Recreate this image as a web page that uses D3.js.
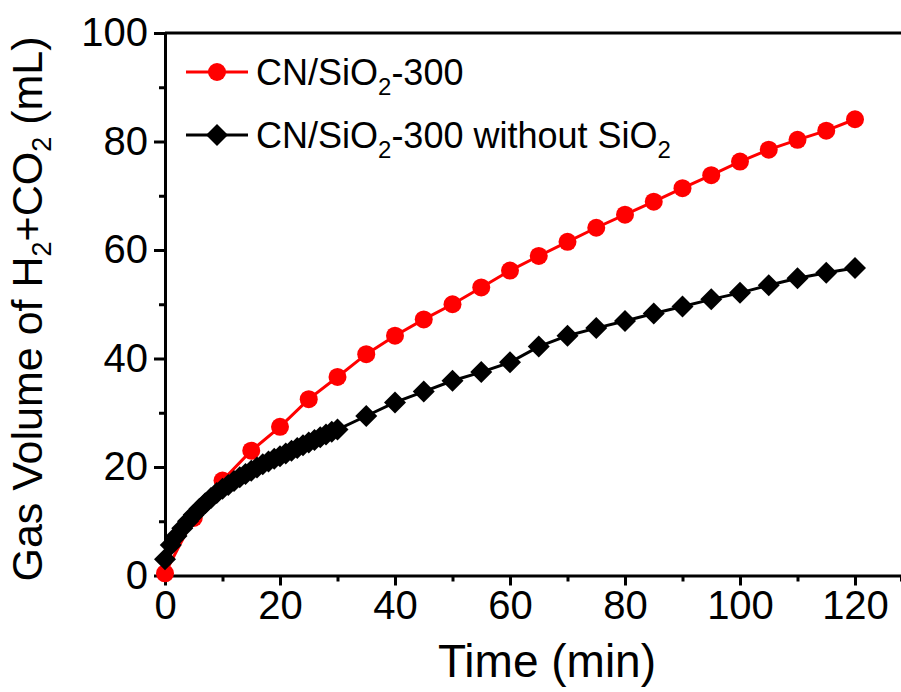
<!DOCTYPE html>
<html>
<head>
<script src="https://cdnjs.cloudflare.com/ajax/libs/d3/7.8.5/d3.min.js"></script>
  <meta charset="utf-8">
  <title>Gas volume</title>
  <style>
    body { margin: 0; background: #fff; }
    svg { display: block; font-family: Arial, "Liberation Sans", sans-serif; }
  </style>
</head>
<body>
  <div id="chartArea"></div>
  <script>
  // red series, sampled every 5 min
  var redTime = [0, 5, 10, 15, 20, 25, 30, 35, 40, 45, 50, 55, 60, 65, 70, 75, 80, 85, 90, 95, 100, 105, 110, 115, 120];
  var redVolume = [0.4, 10.6, 17.5, 23.0, 27.4, 32.5, 36.6, 40.8, 44.2, 47.2, 50.0, 53.1, 56.2, 58.9, 61.5, 64.1, 66.5, 68.9, 71.4, 73.8, 76.3, 78.5, 80.3, 82.0, 84.1];

  // black series, dense at the start
  var blackTime = [0, 1, 2, 3, 4, 5, 6, 7, 8, 9, 10, 11, 12, 13, 14, 15, 16, 17, 18, 19, 20, 21, 22, 23, 24, 25, 26, 27, 28, 29, 30,
    35, 40, 45, 50, 55, 60, 65, 70, 75, 80, 85, 90, 95, 100, 105, 110, 115, 120];
  var blackVolume = [3.0, 5.6, 7.3, 8.7, 10.0, 11.2, 12.3, 13.3, 14.3, 15.2, 16.0, 16.7, 17.4, 18.1, 18.7, 19.3, 19.9, 20.5, 21.0, 21.5, 22.0, 22.5, 23.0, 23.5, 24.0, 24.5, 25.0, 25.5, 26.0, 26.5, 26.9,
    29.4, 31.9, 33.9, 35.9, 37.5, 39.3, 42.2, 44.2, 45.6, 46.9, 48.3, 49.6, 50.9, 52.1, 53.5, 54.8, 55.8, 56.7];

  var xMajor = [0, 20, 40, 60, 80, 100, 120];
  var xMinor = [10, 30, 50, 70, 90, 110];
  var yMajor = [0, 20, 40, 60, 80, 100];
  var yMinor = [10, 30, 50, 70, 90];

  var W = 901, H = 692;
  var svg = d3.select('#chartArea').append('svg')
    .attr('width', W).attr('height', H);

  var x = d3.scaleLinear().domain([0, 128]).range([165, 901]);
  var y = d3.scaleLinear().domain([0, 100]).range([575.5, 33]);

  // axes
  function styleAxis(g) {
    g.select('.domain').attr('stroke', '#000').attr('stroke-width', 3);
    g.selectAll('.tick line').attr('stroke', '#000').attr('stroke-width', 3);
    g.selectAll('.tick text').attr('fill', '#000').attr('font-size', 40);
  }

  var gx = svg.append('g').attr('transform', 'translate(0,' + y(0) + ')');
  gx.call(d3.axisBottom(x).tickValues(xMinor).tickSize(6).tickFormat(''))
    .call(styleAxis);
  var gx2 = svg.append('g').attr('transform', 'translate(0,' + y(0) + ')');
  gx2.call(d3.axisBottom(x).tickValues(xMajor).tickSize(10).tickPadding(5).tickSizeOuter(0))
    .call(styleAxis);
  gx2.select('.domain').remove();

  var gy = svg.append('g').attr('transform', 'translate(' + x(0) + ',0)');
  gy.call(d3.axisLeft(y).tickValues(yMinor).tickSize(6).tickFormat('').tickSizeOuter(0))
    .call(styleAxis);
  var gy2 = svg.append('g').attr('transform', 'translate(' + x(0) + ',0)');
  gy2.call(d3.axisLeft(y).tickValues(yMajor).tickSize(11).tickPadding(6).tickSizeOuter(0))
    .call(styleAxis);
  gy2.select('.domain').remove();

  // top frame line
  svg.append('line')
    .attr('x1', x(0)).attr('x2', W)
    .attr('y1', y(100)).attr('y2', y(100))
    .attr('stroke', '#000').attr('stroke-width', 3);

  // axis titles
  svg.append('text')
    .attr('x', 547).attr('y', 677)
    .attr('text-anchor', 'middle')
    .attr('font-size', 46)
    .text('Time (min)');

  var yt = svg.append('text')
    .attr('transform', 'translate(42,' + 309 + ') rotate(-90)')
    .attr('text-anchor', 'middle')
    .attr('font-size', 43);
  yt.append('tspan').text('Gas Volume of H');
  yt.append('tspan').attr('font-size', 27).attr('dy', 9).text('2');
  yt.append('tspan').attr('dy', -9).text('+CO');
  yt.append('tspan').attr('font-size', 27).attr('dy', 9).text('2');
  yt.append('tspan').attr('dy', -9).text(' (mL)');

  // series
  var redData = redTime.map(function(t, i) { return [t, redVolume[i]]; });
  var blackData = blackTime.map(function(t, i) { return [t, blackVolume[i]]; });
  var line = d3.line()
    .x(function(d) { return x(d[0]); })
    .y(function(d) { return y(d[1]); });

  var diamond = 'M0,-11L11,0L0,11L-11,0Z';

  svg.append('path').datum(redData)
    .attr('d', line).attr('fill', 'none')
    .attr('stroke', '#f00').attr('stroke-width', 3);
  svg.selectAll('circle.red').data(redData).enter()
    .append('circle').attr('class', 'red')
    .attr('cx', function(d) { return x(d[0]); })
    .attr('cy', function(d) { return y(d[1]); })
    .attr('r', 9).attr('fill', '#f00');

  svg.append('path').datum(blackData)
    .attr('d', line).attr('fill', 'none')
    .attr('stroke', '#000').attr('stroke-width', 3);
  svg.selectAll('path.blk').data(blackData).enter()
    .append('path').attr('class', 'blk')
    .attr('d', diamond)
    .attr('transform', function(d) { return 'translate(' + x(d[0]) + ',' + y(d[1]) + ')'; })
    .attr('fill', '#000');

  // legend
  var legend = svg.append('g');
  var legendItems = [
    { color: '#f00', symbol: 'circle', parts: ['CN/SiO', '2', '-300'] },
    { color: '#000', symbol: 'diamond', parts: ['CN/SiO', '2', '-300 without SiO', '2'] }
  ];
  legendItems.forEach(function(it, i) {
    var ly = 72 + i * 63;
    legend.append('line')
      .attr('x1', 186).attr('x2', 248).attr('y1', ly).attr('y2', ly)
      .attr('stroke', it.color).attr('stroke-width', 3);
    if (it.symbol === 'circle') {
      legend.append('circle').attr('cx', 217).attr('cy', ly).attr('r', 9).attr('fill', it.color);
    } else {
      legend.append('path').attr('d', diamond)
        .attr('transform', 'translate(217,' + ly + ')').attr('fill', it.color);
    }
    var t = legend.append('text').attr('x', 256).attr('y', ly + 13).attr('font-size', 36);
    it.parts.forEach(function(p, k) {
      var sub = k % 2 === 1;
      t.append('tspan')
        .attr('font-size', sub ? 24 : 36)
        .attr('dy', sub ? 10 : (k > 0 ? -10 : 0))
        .text(p);
    });
  });
  </script>
</body>
</html>
